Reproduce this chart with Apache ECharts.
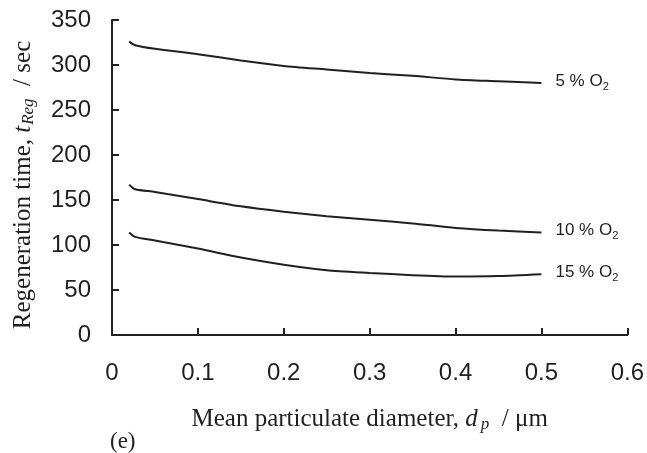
<!DOCTYPE html>
<html>
<head>
<meta charset="utf-8">
<script src="https://cdn.jsdelivr.net/npm/echarts@6/dist/echarts.min.js"></script>
<style>html,body{margin:0;padding:0;background:#fff}#c{width:647px;height:453px}</style>
</head>
<body>
<div id="c"></div>
<script>
var dp = [0.02, 0.027, 0.05, 0.1, 0.15, 0.2, 0.25, 0.3, 0.35, 0.4, 0.45, 0.5];
var o2_5 = [326, 322, 318, 312, 305, 299, 295, 291, 288, 284, 282, 280];
var o2_10 = [167, 162, 159, 151, 143, 137, 132, 128, 124, 119, 116, 114];
var o2_15 = [114, 109, 105, 96, 86, 78, 72, 69, 66.5, 65, 65.5, 67.5];
var seriesNames = ['5 % O', '10 % O', '15 % O'];
var xTicks = [0, 0.1, 0.2, 0.3, 0.4, 0.5, 0.6];
var yTicks = [0, 50, 100, 150, 200, 250, 300, 350];

var ink = '#231f20';
function pairs(ys){ return dp.map(function(x,i){ return [x, ys[i]]; }); }
function mkSeries(name, ys){
  return {
    type: 'line', name: name, data: pairs(ys), showSymbol: false, smooth: 0.25,
    lineStyle: {color: ink, width: 2}, silent: true,
    endLabel: {
      show: true, distance: 14, offset: [0, -2],
      formatter: function(){ return '{a|' + name + '}{s|2}'; },
      rich: {
        a: {fontFamily: 'Liberation Sans', fontSize: 17, color: ink, lineHeight: 22, verticalAlign: 'middle'},
        s: {fontFamily: 'Liberation Sans', fontSize: 11, color: ink, lineHeight: 11, verticalAlign: 'bottom'}
      }
    }
  };
}
var chart = echarts.init(document.getElementById('c'));
chart.setOption({
  animation: false,
  grid: {left: 112, right: 17, top: 20, bottom: 118},
  xAxis: {
    type: 'value', min: 0, max: 0.6, interval: 0.1,
    axisLine: {show: true, lineStyle: {color: ink, width: 2}},
    axisTick: {show: true, inside: true, length: 7, lineStyle: {color: ink, width: 2}},
    splitLine: {show: false},
    axisLabel: {margin: 26, fontFamily: 'Liberation Sans', fontSize: 24, color: ink,
      formatter: function(v){ var i = xTicks.indexOf(Math.round(v*10)/10); return i >= 0 ? String(xTicks[i]) : ''; }},
    name: '{n|Mean particulate diameter, }{i|d}{s|p}{n|  / μm}',
    nameLocation: 'middle', nameGap: 70,
    nameTextStyle: {
      rich: {
        n: {fontFamily: 'Liberation Serif', fontSize: 25, color: ink, lineHeight: 28, verticalAlign: 'middle'},
        i: {fontFamily: 'Liberation Serif', fontStyle: 'italic', fontSize: 25, color: ink, lineHeight: 28, verticalAlign: 'middle'},
        s: {fontFamily: 'Liberation Serif', fontStyle: 'italic', fontSize: 17, color: ink, lineHeight: 16, verticalAlign: 'bottom', padding: [0, 0, 0, 3]}
      }
    }
  },
  yAxis: {
    type: 'value', min: 0, max: 350, interval: 50,
    axisLine: {show: true, lineStyle: {color: ink, width: 2}},
    axisTick: {show: true, inside: true, length: 7, lineStyle: {color: ink, width: 2}},
    splitLine: {show: false},
    axisLabel: {margin: 21, fontFamily: 'Liberation Sans', fontSize: 24, color: ink},
    name: '{n|Regeneration time, }{i|t}{s|Reg}{n|  / sec}',
    nameLocation: 'middle', nameGap: 75, nameRotate: 90,
    nameTextStyle: {
      padding: [0, 15, 0, 0],
      rich: {
        n: {fontFamily: 'Liberation Serif', fontSize: 25, color: ink, lineHeight: 28, verticalAlign: 'middle'},
        i: {fontFamily: 'Liberation Serif', fontStyle: 'italic', fontSize: 25, color: ink, lineHeight: 28, verticalAlign: 'middle'},
        s: {fontFamily: 'Liberation Serif', fontStyle: 'italic', fontSize: 17, color: ink, lineHeight: 16, verticalAlign: 'bottom', padding: [0, 0, 0, 1]}
      }
    }
  },
  graphic: [{
    type: 'text', left: 110, top: 430,
    style: {text: '(e)', fontFamily: 'Liberation Serif', fontSize: 23, fill: ink}
  }],
  series: [mkSeries(seriesNames[0], o2_5), mkSeries(seriesNames[1], o2_10), mkSeries(seriesNames[2], o2_15)]
});
</script>
</body>
</html>
